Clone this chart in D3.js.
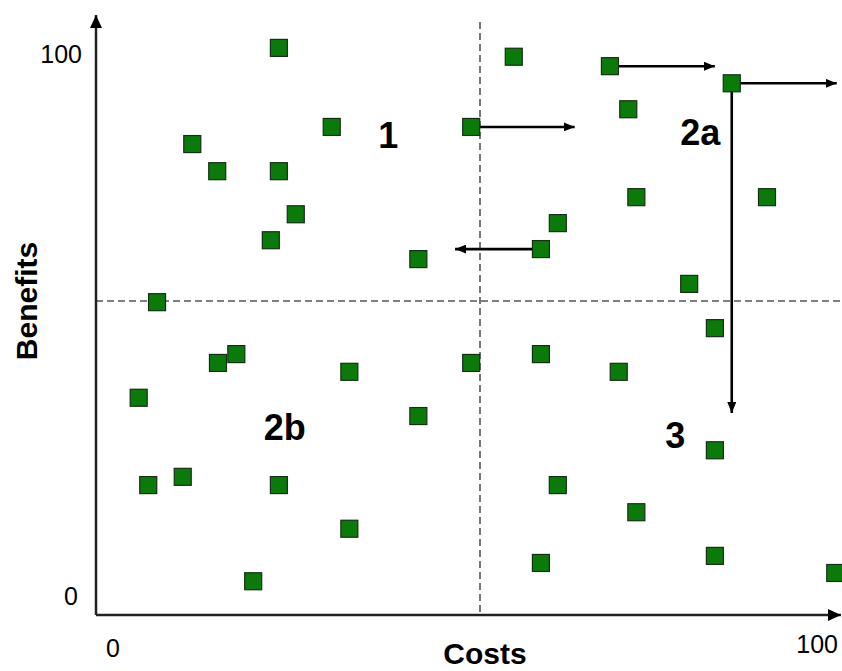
<!DOCTYPE html>
<html>
<head>
<meta charset="utf-8">
<script src="https://cdn.jsdelivr.net/npm/d3@7"></script>
<style>
  body { margin: 0; background: #fff; }
  text { font-family: "Liberation Sans", Arial, sans-serif; fill: #000; }
</style>
</head>
<body>
<svg id="chart"></svg>
<script>
// Point values (costs on x, benefits on y)
const costs = [
  22.6, 54.6, 67.7, 84.3, 70.2, 29.8, 48.8, 10.8, 14.2, 22.6,
  71.3, 89.1, 24.9, 60.6, 21.5, 58.3, 41.6, 78.5, 6.0, 82.0,
  16.8, 58.3, 14.3, 48.8, 32.2, 68.9, 3.5, 41.6, 82.0, 9.5,
  4.8, 22.6, 60.6, 71.3, 32.2, 82.0, 58.3, 98.4, 19.1
];
const benefits = [
  92.9, 91.4, 89.8, 86.9, 82.5, 79.5, 79.5, 76.6, 72.0, 72.0,
  67.6, 67.6, 64.7, 63.2, 60.3, 58.8, 57.1, 52.9, 49.8, 45.4,
  41.0, 41.0, 39.5, 39.5, 38.0, 38.0, 33.6, 30.5, 24.7, 20.2,
  18.8, 18.8, 18.8, 14.2, 11.4, 6.8, 5.6, 3.9, 2.5
];

// Arrows: start point index and where it moves to
const moveFrom = [2, 3, 3, 6, 15];
const moveToCosts = [82.0, 98.6, 84.3, 62.9, 46.6];
const moveToBenefits = [89.8, 86.9, 31.0, 79.5, 58.8];

// Quadrant labels
const quadrantNames = ["1", "2a", "2b", "3"];
const quadrantCosts = [37.5, 80.0, 23.4, 76.6];
const quadrantBenefits = [78.0, 78.5, 28.6, 27.3];

const costThreshold = 50;
const benefitThreshold = 50;
const tickLabels = ["0", "100"];

const width = 842;
const height = 671;
const origin = { x: 96, y: 615 };

const svg = d3.select("#chart")
  .attr("width", width)
  .attr("height", height);

const x = d3.scaleLinear().domain([0, 100]).range([113, 847]);
const y = d3.scaleLinear().domain([0, 100]).range([596, 6]);

// Arrowhead markers
const defs = svg.append("defs");
defs.append("marker")
  .attr("id", "head")
  .attr("viewBox", "0 0 11 9")
  .attr("refX", 11)
  .attr("refY", 4.5)
  .attr("markerUnits", "userSpaceOnUse")
  .attr("markerWidth", 11)
  .attr("markerHeight", 9)
  .attr("orient", "auto")
  .append("path")
  .attr("d", "M0,0 L11,4.5 L0,9 Z")
  .attr("fill", "#000");

defs.append("marker")
  .attr("id", "axisHead")
  .attr("viewBox", "0 0 13 12")
  .attr("refX", 13)
  .attr("refY", 6)
  .attr("markerUnits", "userSpaceOnUse")
  .attr("markerWidth", 13)
  .attr("markerHeight", 12)
  .attr("orient", "auto")
  .append("path")
  .attr("d", "M0,0 L13,6 L0,12 Z")
  .attr("fill", "#000");

// Dashed quadrant lines
svg.append("line")
  .attr("x1", x(costThreshold)).attr("x2", x(costThreshold))
  .attr("y1", 22).attr("y2", origin.y)
  .attr("stroke", "#555")
  .attr("stroke-width", 1.6)
  .attr("stroke-dasharray", "7,4");

svg.append("line")
  .attr("x1", origin.x).attr("x2", width)
  .attr("y1", y(benefitThreshold)).attr("y2", y(benefitThreshold))
  .attr("stroke", "#555")
  .attr("stroke-width", 1.6)
  .attr("stroke-dasharray", "7,4");

// Axes with arrows
svg.append("line")
  .attr("x1", origin.x).attr("y1", origin.y)
  .attr("x2", 841).attr("y2", origin.y)
  .attr("stroke", "#222")
  .attr("stroke-width", 2.5)
  .attr("marker-end", "url(#axisHead)");

svg.append("line")
  .attr("x1", origin.x).attr("y1", origin.y)
  .attr("x2", origin.x).attr("y2", 15)
  .attr("stroke", "#222")
  .attr("stroke-width", 2.5)
  .attr("marker-end", "url(#axisHead)");

// Tick labels at the axis ends
svg.append("text").attr("x", 82).attr("y", 63)
  .attr("text-anchor", "end").attr("font-size", 25).text(tickLabels[1]);
svg.append("text").attr("x", 78).attr("y", 605)
  .attr("text-anchor", "end").attr("font-size", 25).text(tickLabels[0]);
svg.append("text").attr("x", x(0)).attr("y", 657)
  .attr("text-anchor", "middle").attr("font-size", 25).text(tickLabels[0]);
svg.append("text").attr("x", 838).attr("y", 653)
  .attr("text-anchor", "end").attr("font-size", 25).text(tickLabels[1]);

// Axis titles
svg.append("text")
  .attr("x", x(costThreshold) + 5)
  .attr("y", 664)
  .attr("text-anchor", "middle")
  .attr("font-size", 30)
  .attr("font-weight", "bold")
  .text("Costs");

svg.append("text")
  .attr("transform", `translate(37, ${y(benefitThreshold)}) rotate(-90)`)
  .attr("text-anchor", "middle")
  .attr("font-size", 30)
  .attr("font-weight", "bold")
  .text("Benefits");

// Movement arrows (drawn under the squares)
svg.selectAll(".move")
  .data(moveFrom)
  .enter()
  .append("line")
  .attr("class", "move")
  .attr("x1", (d) => x(costs[d]))
  .attr("y1", (d) => y(benefits[d]))
  .attr("x2", (d, i) => x(moveToCosts[i]))
  .attr("y2", (d, i) => y(moveToBenefits[i]))
  .attr("stroke", "#000")
  .attr("stroke-width", 2.6)
  .attr("marker-end", "url(#head)");

// Quadrant labels
svg.selectAll(".quad")
  .data(quadrantNames)
  .enter()
  .append("text")
  .attr("class", "quad")
  .attr("x", (d, i) => x(quadrantCosts[i]))
  .attr("y", (d, i) => y(quadrantBenefits[i]))
  .attr("dy", "0.35em")
  .attr("text-anchor", "middle")
  .attr("font-size", 36)
  .attr("font-weight", "bold")
  .text((d) => d);

// Green squares
const size = 17;
svg.selectAll(".pt")
  .data(costs)
  .enter()
  .append("rect")
  .attr("class", "pt")
  .attr("x", (d) => x(d) - size / 2)
  .attr("y", (d, i) => y(benefits[i]) - size / 2)
  .attr("width", size)
  .attr("height", size)
  .attr("fill", "#0b7a0b")
  .attr("stroke", "#143014")
  .attr("stroke-width", 1.2);
</script>
</body>
</html>
